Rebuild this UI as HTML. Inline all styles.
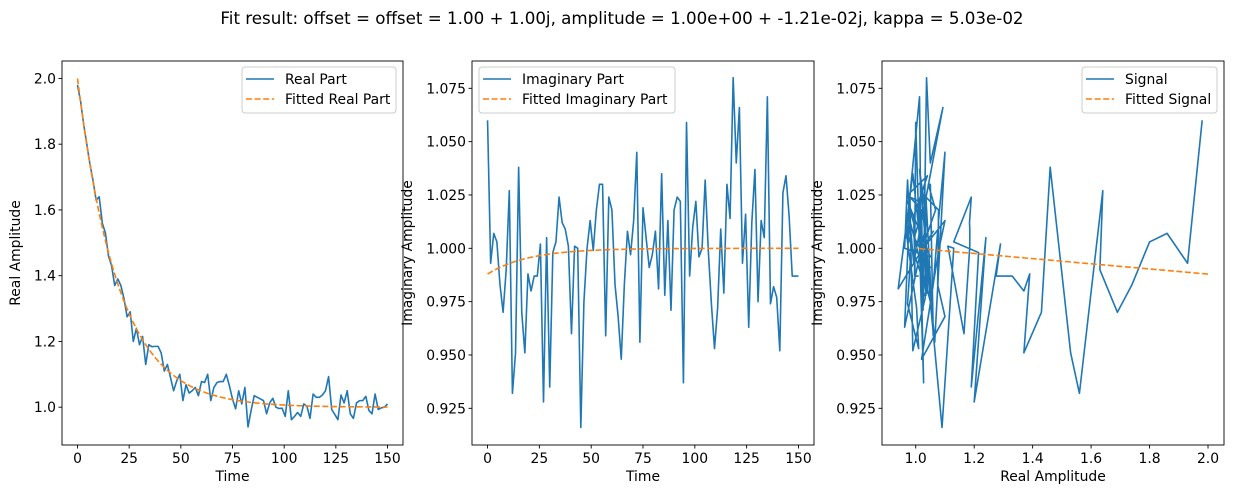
<!DOCTYPE html>
<html><head><meta charset="utf-8"><style>
body{margin:0;background:#fff;}
svg{display:block;font-family:"DejaVu Sans","Liberation Sans",sans-serif;}
</style></head><body>
<svg id="fig" width="1233" height="498" viewBox="0 0 1233 498">
<text x="622" y="24" text-anchor="middle" font-size="16.7">Fit result: offset = offset = 1.00 + 1.00j, amplitude = 1.00e+00 + -1.21e-02j, kappa = 5.03e-02</text>
</svg>
<script>
const realVals=[1.98,1.93,1.86,1.80,1.74,1.69,1.63,1.64,1.56,1.53,1.46,1.43,1.37,1.39,1.37,1.33,1.275,1.29,1.20,1.24,1.19,1.215,1.13,1.19,1.184,1.185,1.185,1.165,1.11,1.13,1.09,1.05,1.08,1.10,1.02,1.068,1.043,1.05,1.06,1.035,1.078,1.075,1.10,1.02,1.06,1.075,1.078,1.078,1.10,1.065,1.025,0.995,1.05,1.01,1.06,0.94,0.99,1.035,1.03,1.025,1.02,0.98,1.013,1.027,1.0,0.996,0.997,0.972,1.05,0.962,0.972,0.984,0.972,1.01,1.003,0.966,1.04,1.03,1.03,1.037,1.05,1.093,0.993,0.978,0.962,1.037,1.013,1.05,0.98,0.966,1.013,1.02,1.02,1.033,0.99,0.98,1.04,0.993,0.998,1.0,1.01];
const imagVals=[1.060,0.993,1.007,1.003,0.983,0.970,0.990,1.027,0.932,0.951,1.038,0.970,0.951,0.988,0.980,0.987,0.987,1.002,0.928,1.005,0.935,0.998,1.003,1.024,1.012,1.009,1.001,0.960,1.001,1.000,0.916,0.975,1.000,1.013,0.999,1.018,1.030,1.030,0.959,1.024,1.018,0.983,0.968,0.948,0.983,1.008,0.997,1.013,1.045,0.956,1.019,1.005,0.991,0.997,1.008,0.981,1.035,0.978,1.013,0.971,1.018,1.024,1.022,0.937,1.059,0.987,1.010,1.022,0.996,1.000,1.032,0.999,0.974,0.953,0.972,1.009,0.979,1.030,1.014,1.080,1.040,1.066,0.993,1.016,0.963,1.012,1.037,0.975,1.013,1.005,1.071,0.974,0.982,0.977,0.952,1.026,1.034,1.015,0.987,0.987,0.987];
const timeStart=0, timeStep=1.5;
const fitOffset=[1.0,1.0], fitAmp=[1.0,-0.0121], fitKappa=0.0503;
const xTicksTime=[0,25,50,75,100,125,150];
const yTicksReal=[1.0,1.2,1.4,1.6,1.8,2.0];
const yTicksImag=[0.925,0.950,0.975,1.000,1.025,1.050,1.075];
const xTicksRealAmp=[1.0,1.2,1.4,1.6,1.8,2.0];

const NS='http://www.w3.org/2000/svg';
const svg=document.getElementById('fig');
function mk(tag,attrs,parent){const e=document.createElementNS(NS,tag);for(const k in attrs)e.setAttribute(k,attrs[k]);(parent||svg).appendChild(e);return e;}
const times=realVals.map((_,i)=>timeStart+i*timeStep);
const fitReal=times.map(t=>fitOffset[0]+fitAmp[0]*Math.exp(-fitKappa*t));
const fitImag=times.map(t=>fitOffset[1]+fitAmp[1]*Math.exp(-fitKappa*t));
const FS=13.9;

function panel(o){
  const g=mk('g',{});
  
  
  const sx=v=>o.L+(v-o.x0)/(o.x1-o.x0)*(o.R-o.L);
  const sy=v=>o.B-(v-o.y0)/(o.y1-o.y0)*(o.B-o.T);
  const clipId='c'+o.name;
  const cp=mk('clipPath',{id:clipId},g);mk('rect',{x:o.L,y:o.T,width:o.R-o.L,height:o.B-o.T},cp);
  const series=(xs,ys,col,dash,nm)=>{
    const d=xs.map((x,i)=>(i?'L':'M')+sx(x).toFixed(2)+' '+sy(ys[i]).toFixed(2)).join('');
    const p=mk('path',{d:d,fill:'none',stroke:col,'stroke-width':1.6,'stroke-dasharray':dash||'none','clip-path':'url(#'+clipId+')','stroke-linejoin':'round'},g);
    
    
  };
  series(o.xs,o.ys,'#1f77b4',null,'data-line');
  series(o.fx,o.fy,'#ff7f0e','6,2.6','fit-line');
  const fr=mk('rect',{x:o.L,y:o.T,width:o.R-o.L,height:o.B-o.T,fill:'none',stroke:'#000','stroke-width':0.9},g);
  
  
  o.xt.forEach(v=>{const x=sx(v);mk('line',{x1:x,x2:x,y1:o.B,y2:o.B+3.5,stroke:'#000','stroke-width':0.9},g);
    const t=mk('text',{x:x,y:o.B+18,'text-anchor':'middle','font-size':FS},g);t.textContent=o.xf(v);
    
    });
  o.yt.forEach(v=>{const y=sy(v);mk('line',{x1:o.L-3.5,x2:o.L,y1:y,y2:y,stroke:'#000','stroke-width':0.9},g);
    const t=mk('text',{x:o.L-6,y:y+5,'text-anchor':'end','font-size':FS},g);t.textContent=o.yf(v);
    
    });
  const xl=mk('text',{x:(o.L+o.R)/2,y:o.B+36,'text-anchor':'middle','font-size':FS},g);xl.textContent=o.xlab;
  
  
  const yl=mk('text',{x:0,y:0,'text-anchor':'middle','font-size':FS,transform:'translate('+o.ylx+','+((o.T+o.B)/2)+') rotate(-90)'},g);yl.textContent=o.ylab;
  
  
  const lg=mk('g',{},g);
  
  
  mk('rect',{x:o.lx,y:67,width:o.lw,height:46,rx:3,fill:'#fff',stroke:'#ccc','stroke-width':1},lg);
  mk('line',{x1:o.lx+4,x2:o.lx+32,y1:79,y2:79,stroke:'#1f77b4','stroke-width':1.6},lg);
  mk('line',{x1:o.lx+4,x2:o.lx+32,y1:99,y2:99,stroke:'#ff7f0e','stroke-width':1.6,'stroke-dasharray':'6,2.6'},lg);
  const l1=mk('text',{x:o.lx+43,y:84,'font-size':FS},lg);l1.textContent=o.leg[0];
  
  
  const l2=mk('text',{x:o.lx+43,y:104,'font-size':FS},lg);l2.textContent=o.leg[1];
  
  
}
panel({name:'real-part-panel',L:62,R:403,T:61,B:445,x0:-7.5,x1:157.5,y0:0.885,y1:2.053,xs:times,ys:realVals,fx:times,fy:fitReal,
  xt:xTicksTime,yt:yTicksReal,xf:v=>String(v),yf:v=>v.toFixed(1),xlab:'Time',ylab:'Real Amplitude',ylx:20,lx:242,lw:154,leg:['Real Part','Fitted Real Part']});
panel({name:'imag-part-panel',L:472,R:814,T:61,B:445,x0:-7.5,x1:157.5,y0:0.9078,y1:1.0878,xs:times,ys:imagVals,fx:times,fy:fitImag,
  xt:xTicksTime,yt:yTicksImag,xf:v=>String(v),yf:v=>v.toFixed(3),xlab:'Time',ylab:'Imaginary Amplitude',ylx:412,lx:479,lw:196,leg:['Imaginary Part','Fitted Imaginary Part']});
panel({name:'signal-panel',L:882,R:1224,T:61,B:445,x0:0.8846,x1:2.0547,y0:0.9078,y1:1.0878,xs:realVals,ys:imagVals,fx:fitReal,fy:fitImag,
  xt:xTicksRealAmp,yt:yTicksImag,xf:v=>v.toFixed(1),yf:v=>v.toFixed(3),xlab:'Real Amplitude',ylab:'Imaginary Amplitude',ylx:822,lx:1082,lw:135,leg:['Signal','Fitted Signal']});
</script>
</body></html>
